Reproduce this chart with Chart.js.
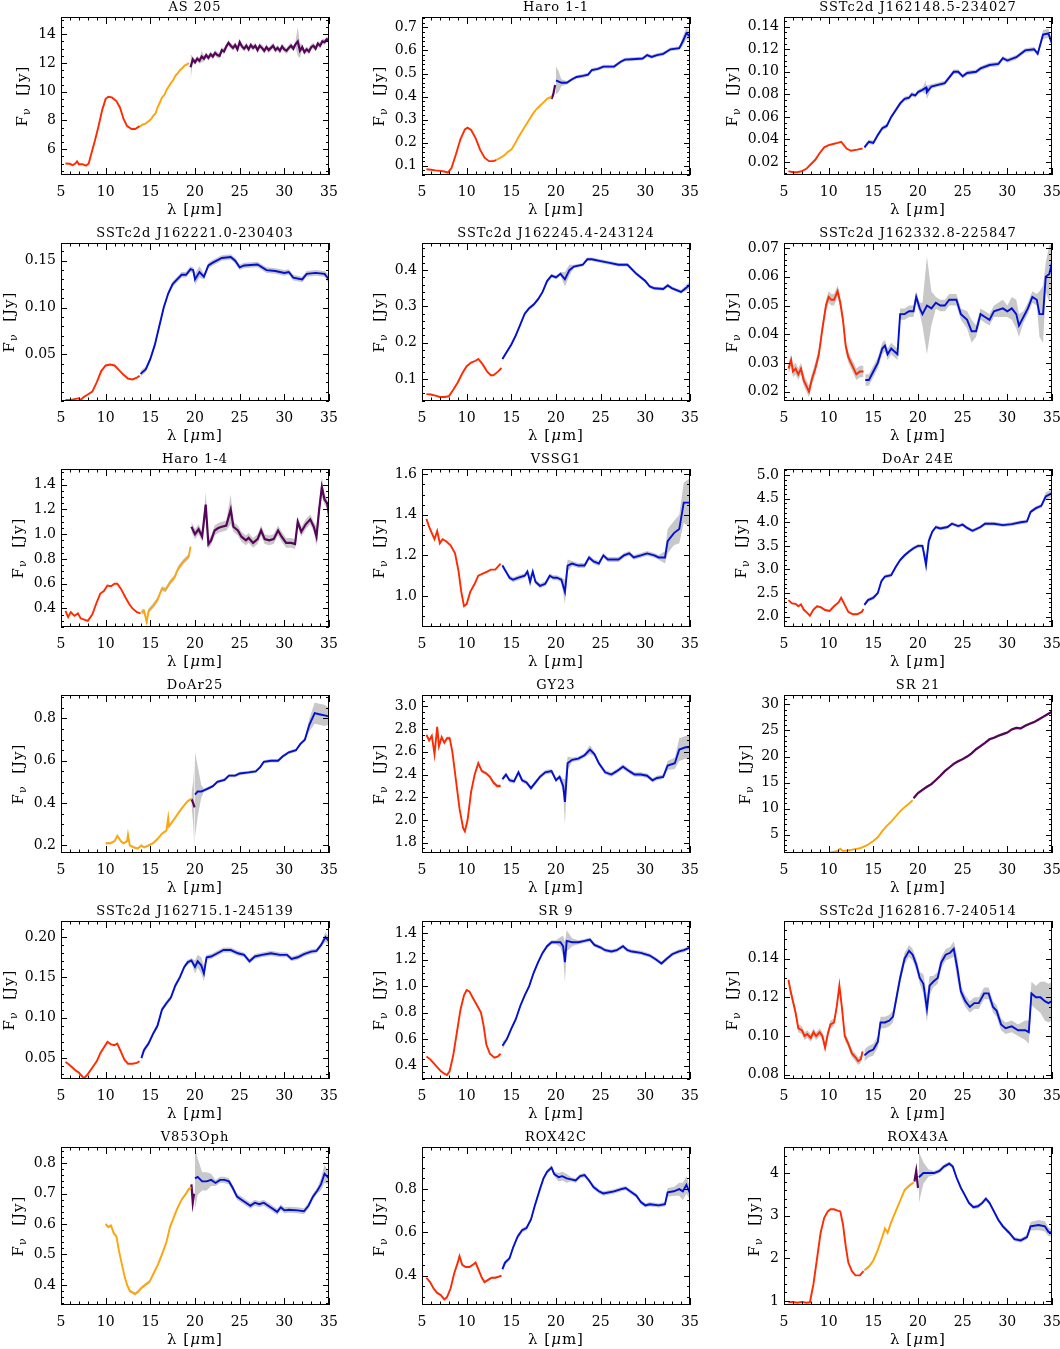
<!DOCTYPE html>
<html lang="en">
<head>
  <meta charset="UTF-8" />
  <title>IRS spectra</title>
  <script src="https://cdn.jsdelivr.net/npm/chart.js"></script>
  <style>
    html, body { margin: 0; padding: 0; background: #fff; overflow: hidden; }
    body { width: 1060px; height: 1349px; position: relative; }
    canvas { position: absolute; }
  </style>
</head>
<body>
<script>
// ---- shared axis data ----
const X_TICKS = [5, 10, 15, 20, 25, 30, 35];

const TITLES = [
  "AS 205", "Haro 1-1", "SSTc2d J162148.5-234027",
  "SSTc2d J162221.0-230403", "SSTc2d J162245.4-243124", "SSTc2d J162332.8-225847",
  "Haro 1-4", "VSSG1", "DoAr 24E",
  "DoAr25", "GY23", "SR 21",
  "SSTc2d J162715.1-245139", "SR 9", "SSTc2d J162816.7-240514",
  "V853Oph", "ROX42C", "ROX43A"
];

const Y_RANGES = [
  [4.2, 15.2], [0.06, 0.745], [0.0085, 0.1486],
  [0.0, 0.169], [0.039, 0.475], [0.0167, 0.0718],
  [0.25, 1.527], [0.847, 1.626], [1.78, 5.13],
  [0.164, 0.911], [1.71, 3.10], [1.5, 31.8],
  [0.024, 0.220], [0.30, 1.49], [0.0778, 0.1594],
  [0.334, 0.853], [0.264, 0.995], [0.906, 4.61]
];

const Y_TICKS = [
  [6, 8, 10, 12, 14], [0.1, 0.2, 0.3, 0.4, 0.5, 0.6, 0.7], [0.02, 0.04, 0.06, 0.08, 0.10, 0.12, 0.14],
  [0.05, 0.10, 0.15], [0.1, 0.2, 0.3, 0.4], [0.02, 0.03, 0.04, 0.05, 0.06, 0.07],
  [0.4, 0.6, 0.8, 1.0, 1.2, 1.4], [1.0, 1.2, 1.4, 1.6], [2.0, 2.5, 3.0, 3.5, 4.0, 4.5, 5.0],
  [0.2, 0.4, 0.6, 0.8], [1.8, 2.0, 2.2, 2.4, 2.6, 2.8, 3.0], [5, 10, 15, 20, 25, 30],
  [0.05, 0.10, 0.15, 0.20], [0.4, 0.6, 0.8, 1.0, 1.2, 1.4], [0.08, 0.10, 0.12, 0.14],
  [0.4, 0.5, 0.6, 0.7, 0.8], [0.4, 0.6, 0.8], [1, 2, 3, 4]
];

const Y_DECIMALS = [0, 1, 2, 2, 1, 2, 1, 1, 1, 1, 1, 0, 2, 1, 2, 1, 1, 0];

// ---- spectra: [lambda, flux, optional uncertainty] ----
// AS 205
const as205Red = [[5.5,5.0],[6.0,4.98],[6.3,4.88],[6.6,5.0],[6.8,5.15],[7.0,4.95],[7.4,4.95],[7.8,4.85],[8.1,5.0],[8.4,5.7],[8.8,6.6],[9.2,7.6],[9.6,8.7],[10.0,9.5],[10.3,9.65],[10.7,9.6],[11.2,9.35],[11.6,8.9],[12.0,8.1],[12.4,7.6],[12.9,7.4],[13.3,7.4],[13.8,7.6]];
const as205Orange = [[13.8,7.55],[14.1,7.7],[14.4,7.75],[14.8,7.95],[15.1,8.1],[15.3,8.3],[15.6,8.5],[15.8,8.9],[16.1,9.3],[16.3,9.6],[16.6,9.8],[16.8,10.1],[17.1,10.4],[17.3,10.6],[17.6,10.85],[17.8,11.1],[18.1,11.3],[18.3,11.5],[18.6,11.65],[18.8,11.8],[19.1,11.9],[19.3,12.0]];
const as205Purple = [[19.5,11.7,0.9],[19.75,12.25],[20.0,12.05],[20.25,12.3],[20.5,12.15],[20.75,12.45,0.4],[21.0,12.3],[21.25,12.55],[21.5,12.35],[21.75,12.6],[22.0,12.45],[22.25,12.7],[22.5,12.55],[22.75,12.5],[23.0,12.9],[23.25,12.8],[23.5,13.15],[23.75,13.4],[24.0,13.2],[24.25,13.05],[24.5,13.25],[24.75,12.95],[25.0,13.45],[25.25,13.15],[25.5,13.0],[25.75,13.2],[26.0,12.95],[26.25,13.25],[26.5,13.05],[26.75,13.2],[27.0,12.9],[27.25,13.2],[27.5,13.05],[27.75,12.85],[28.0,13.1],[28.25,12.9],[28.5,13.05],[28.75,13.2],[29.0,12.9],[29.25,13.05],[29.5,12.85],[29.75,13.15],[30.0,12.95],[30.25,12.85],[30.5,13.05],[30.75,13.2],[31.0,13.0],[31.25,13.3],[31.5,13.5,1.0],[31.75,12.85,0.5],[32.0,13.1],[32.25,12.75],[32.5,12.95],[32.75,12.8],[33.0,13.1],[33.25,13.2],[33.5,13.0],[33.75,13.35],[34.0,13.2],[34.25,13.5],[34.5,13.45],[34.75,13.65],[35.0,13.6]];

// Haro 1-1
const haro11Red = [[5.5,0.085],[6.0,0.083],[6.5,0.08],[7.0,0.078],[7.5,0.075],[7.9,0.07],[8.3,0.09],[8.8,0.15],[9.3,0.215],[9.8,0.258],[10.1,0.265],[10.5,0.255],[11.0,0.22],[11.5,0.17],[12.0,0.135],[12.5,0.12],[13.0,0.12],[13.3,0.125]];
const haro11Orange = [[13.3,0.125],[13.8,0.135],[14.2,0.145],[14.6,0.16],[15.0,0.17],[15.4,0.195],[15.8,0.225],[16.2,0.25],[16.6,0.275],[17.0,0.3],[17.4,0.325],[17.8,0.345],[18.2,0.36],[18.6,0.375],[19.0,0.39],[19.5,0.4]];
const haro11Purple = [[19.5,0.39],[19.7,0.41],[19.9,0.45]];
const haro11Blue = [[20.0,0.47,0.06],[20.3,0.465,0.045],[20.6,0.46,0.015],[21.2,0.46],[21.8,0.475],[22.3,0.485],[23.0,0.49],[23.6,0.495],[24.0,0.515],[24.7,0.52],[25.3,0.53],[26.5,0.53],[27.2,0.55],[27.7,0.56],[28.5,0.562],[29.7,0.565],[30.2,0.58],[30.7,0.572],[31.3,0.58],[32.0,0.585],[32.8,0.605],[33.8,0.61],[34.2,0.64,0.02],[34.6,0.675,0.025],[35.0,0.66,0.02]];

// SSTc2d J162148.5-234027
const j1621Red = [[5.5,0.012],[6.0,0.011],[6.5,0.011],[7.0,0.012],[7.5,0.014],[8.0,0.018],[8.5,0.022],[9.0,0.028],[9.5,0.033],[10.0,0.035],[10.5,0.036],[11.0,0.037],[11.4,0.038],[11.7,0.035],[12.0,0.032],[12.5,0.03],[13.2,0.031],[13.8,0.032]];
const j1621Blue = [[14.0,0.033],[14.5,0.038],[15.0,0.037],[15.5,0.044],[16.0,0.05],[16.5,0.052],[17.0,0.06],[17.5,0.066],[18.0,0.072],[18.5,0.076],[19.0,0.077],[19.3,0.08],[19.7,0.079],[20.0,0.082],[20.5,0.084],[20.9,0.086,0.006],[21.0,0.082,0.006],[21.5,0.087],[22.0,0.088],[23.0,0.09],[23.5,0.095],[24.0,0.1],[24.5,0.1],[25.0,0.096],[25.5,0.099],[26.5,0.1],[27.0,0.103],[28.0,0.106],[29.0,0.107],[29.5,0.112],[30.0,0.11],[31.0,0.113],[32.0,0.119],[33.0,0.12],[33.4,0.116],[34.0,0.133,0.004],[34.6,0.134,0.004],[35.0,0.125]];

// SSTc2d J162221.0-230403
const j1622aRed = [[5.5,0.001],[6.0,0.001],[6.5,0.002],[7.0,0.003],[7.2,0.001],[7.5,0.004],[8.0,0.007],[8.5,0.01],[9.0,0.02],[9.5,0.032],[10.0,0.038],[10.5,0.039],[11.0,0.038],[11.5,0.033],[12.0,0.028],[12.5,0.024],[13.0,0.023],[13.5,0.025],[13.8,0.027]];
const j1622aBlue = [[13.9,0.029],[14.5,0.034],[15.0,0.045],[15.5,0.06],[16.0,0.08],[16.5,0.1],[17.0,0.115],[17.5,0.125],[18.0,0.13],[18.5,0.135],[19.0,0.135],[19.5,0.141],[19.8,0.14],[20.0,0.13,0.006],[20.5,0.138,0.006],[21.0,0.133],[21.5,0.145],[22.0,0.148],[23.0,0.153],[24.0,0.154],[24.5,0.15],[25.0,0.143],[25.5,0.145],[27.0,0.146],[28.0,0.14],[29.0,0.139],[30.0,0.137],[30.5,0.138],[31.0,0.132],[32.0,0.13],[32.5,0.136],[33.5,0.137],[34.5,0.136],[35.0,0.13,0.005]];

// SSTc2d J162245.4-243124
const j1622bRed = [[5.5,0.058],[6.0,0.057],[6.5,0.054],[7.0,0.05],[7.5,0.05],[8.0,0.052],[8.5,0.07],[9.0,0.09],[9.5,0.115],[10.0,0.135],[10.5,0.145],[11.0,0.15],[11.3,0.155],[11.8,0.14],[12.3,0.12],[12.7,0.11],[13.0,0.11],[13.5,0.12],[13.9,0.13]];
const j1622bBlue = [[14.0,0.155],[14.5,0.175],[15.0,0.195],[15.5,0.22],[16.0,0.25],[16.5,0.28],[17.0,0.295],[17.5,0.305],[18.0,0.32],[18.5,0.34],[19.0,0.37],[19.5,0.385],[20.0,0.38],[20.5,0.39],[21.0,0.375,0.02],[21.5,0.4,0.015],[22.0,0.41],[23.0,0.415],[23.5,0.43],[24.0,0.43],[25.0,0.425],[26.0,0.42],[27.0,0.415],[28.0,0.415],[29.0,0.39],[30.0,0.37],[30.5,0.355],[31.0,0.35],[32.0,0.348],[32.5,0.358],[33.0,0.35],[34.0,0.34],[35.0,0.36,0.01]];

// SSTc2d J162332.8-225847
const j1623Red = [[5.5,0.028],[5.8,0.031],[6.0,0.027],[6.3,0.028],[6.6,0.026],[6.9,0.028],[7.2,0.024],[7.5,0.022],[7.8,0.02],[8.1,0.024],[8.5,0.028],[8.9,0.033],[9.3,0.042],[9.7,0.05],[10.0,0.053],[10.3,0.052],[10.6,0.052],[11.0,0.055],[11.3,0.051],[11.6,0.045],[11.9,0.036],[12.2,0.032],[12.5,0.03],[12.8,0.028],[13.1,0.026],[13.5,0.027],[13.9,0.027]];
const j1623Blue = [[14.1,0.024],[14.5,0.024],[15.0,0.027],[15.5,0.03],[16.0,0.035],[16.3,0.036],[16.6,0.033],[17.0,0.035],[17.7,0.033],[18.0,0.047],[18.5,0.047],[19.0,0.048],[19.5,0.048],[19.8,0.053],[20.2,0.049],[20.5,0.047,0.004],[21.0,0.05,0.017],[21.5,0.049,0.006],[22.0,0.051],[22.5,0.05],[23.0,0.05],[23.5,0.052],[24.3,0.052],[24.8,0.047],[25.5,0.045,0.003],[26.0,0.041,0.004],[26.5,0.041],[27.0,0.047],[27.5,0.046],[28.0,0.045],[28.5,0.048],[29.5,0.049,0.003],[30.0,0.048],[30.5,0.049,0.004],[31.0,0.047,0.005],[31.3,0.043,0.004],[31.8,0.046],[32.3,0.049],[32.8,0.053],[33.3,0.052],[33.6,0.047,0.008],[34.0,0.047,0.01],[34.3,0.06,0.005],[34.7,0.061,0.01],[35.0,0.065,0.006]];

// Haro 1-4
const haro14Red = [[5.5,0.38],[5.8,0.33],[6.1,0.37],[6.5,0.34],[6.9,0.36],[7.2,0.32],[7.6,0.31],[8.0,0.30],[8.5,0.35],[9.0,0.45],[9.4,0.52],[9.8,0.54],[10.2,0.585],[10.6,0.58],[11.0,0.6],[11.3,0.6],[11.7,0.56],[12.2,0.49],[12.6,0.44],[13.0,0.4],[13.5,0.37],[13.9,0.36]];
const haro14Orange = [[14.0,0.37],[14.3,0.38],[14.6,0.29],[14.8,0.38],[15.3,0.42],[15.8,0.47],[16.3,0.56],[16.7,0.55],[17.2,0.61],[17.7,0.65],[18.1,0.72],[18.6,0.77],[19.0,0.8],[19.3,0.82],[19.5,0.9]];
const haro14Purple = [[19.6,1.06],[20.0,1.0],[20.4,1.04],[20.8,0.98],[21.2,1.24,0.1],[21.5,0.92],[21.8,0.95],[22.2,1.03],[22.6,1.05],[23.0,1.06],[23.5,1.07],[24.0,1.2,0.12],[24.3,1.06],[24.8,1.03],[25.2,0.98],[25.7,0.95],[26.0,0.97],[26.5,0.93],[27.0,0.96],[27.4,1.03],[27.8,0.96],[28.3,0.95],[28.8,0.96],[29.3,1.03],[29.7,0.98],[30.2,0.93],[30.8,0.93],[31.2,0.92],[31.5,1.1],[31.9,1.02],[32.4,1.08],[32.9,1.12],[33.3,1.06],[33.6,0.98,0.08],[33.9,1.2],[34.2,1.38,0.08],[34.5,1.28],[34.8,1.25],[35.0,1.15]];

// VSSG1
const vssg1Red = [[5.5,1.38],[5.8,1.34],[6.1,1.31],[6.4,1.28],[6.7,1.32],[7.0,1.26],[7.3,1.28],[7.7,1.27],[8.2,1.25],[8.7,1.21],[9.1,1.12],[9.4,1.02],[9.7,0.95],[10.0,0.96],[10.4,1.02],[10.9,1.06],[11.3,1.1],[11.8,1.11],[12.3,1.12],[12.7,1.13],[13.2,1.13],[13.8,1.16]];
const vssg1Blue = [[14.0,1.15],[14.4,1.12],[14.8,1.09],[15.2,1.08],[15.8,1.09],[16.5,1.1],[16.8,1.12],[17.1,1.07,0.03],[17.4,1.12],[17.7,1.07],[18.2,1.05],[18.8,1.06],[19.3,1.1],[19.7,1.09],[20.1,1.09],[20.6,1.08],[21.0,1.02,0.06],[21.3,1.15,0.03],[21.8,1.16],[22.5,1.15],[23.2,1.15],[23.7,1.19],[24.2,1.17],[24.8,1.16],[25.3,1.2],[25.8,1.18],[27.0,1.18],[27.6,1.2],[28.2,1.21],[28.7,1.19],[29.5,1.2],[30.2,1.21],[31.0,1.2],[31.5,1.19],[32.2,1.19,0.03],[32.5,1.27,0.06],[33.2,1.31,0.06],[33.8,1.33,0.07],[34.3,1.46,0.1],[35.0,1.46,0.12]];

// DoAr 24E
const doar24Red = [[5.5,2.35],[5.9,2.28],[6.3,2.27],[6.6,2.22],[6.9,2.26],[7.2,2.15],[7.6,2.08],[7.9,2.02],[8.3,2.15],[8.7,2.22],[9.1,2.2],[9.6,2.14],[10.1,2.12],[10.6,2.22],[11.1,2.3],[11.4,2.4],[11.8,2.25],[12.2,2.1],[12.7,2.05],[13.2,2.05],[13.7,2.1],[13.9,2.16]];
const doar24Blue = [[14.0,2.25],[14.4,2.35],[15.0,2.4],[15.5,2.5],[15.9,2.75],[16.3,2.85],[17.0,2.88],[17.5,3.05],[18.0,3.2],[18.5,3.3],[19.0,3.38],[19.5,3.45],[20.0,3.5],[20.5,3.5],[20.9,3.1,0.2],[21.2,3.6,0.1],[21.6,3.8],[22.0,3.9],[22.5,3.87],[23.3,3.9],[23.8,3.97],[24.5,3.92],[25.0,3.95],[25.5,3.88],[26.1,3.82],[27.0,3.9],[27.5,3.97],[28.5,3.97],[29.5,3.94],[30.5,3.96],[31.5,4.0],[32.2,4.02],[32.6,4.22],[33.2,4.3],[33.8,4.35],[34.3,4.55,0.08],[35.0,4.62,0.08]];

// DoAr25
const doar25Orange = [[10.0,0.21],[10.5,0.21],[11.0,0.22],[11.3,0.245],[11.7,0.22],[12.0,0.21],[12.4,0.22],[12.5,0.25],[12.7,0.2],[13.2,0.19],[13.6,0.185],[14.0,0.2],[14.3,0.19],[14.8,0.2],[15.3,0.21],[15.8,0.23],[16.3,0.255],[16.8,0.27],[17.0,0.33],[17.1,0.29],[17.6,0.32],[18.1,0.35],[18.6,0.38],[19.2,0.41],[19.6,0.42]];
const doar25Purple = [[19.6,0.42,0.03],[19.8,0.4,0.1],[19.95,0.38,0.22]];
const doar25Blue = [[20.0,0.44,0.2],[20.3,0.455,0.12],[20.7,0.455,0.03],[21.0,0.46],[21.5,0.47],[22.0,0.48],[22.5,0.5],[23.3,0.51],[23.8,0.53],[24.5,0.53],[25.0,0.54],[26.0,0.545],[26.8,0.55],[27.3,0.57],[27.7,0.595],[28.5,0.6],[29.3,0.6],[29.8,0.62],[30.5,0.64],[31.3,0.65],[31.8,0.68],[32.3,0.7],[32.8,0.77,0.03],[33.4,0.825,0.05],[33.9,0.82,0.05],[34.5,0.815,0.05],[35.0,0.81,0.04]];

// GY23
const gy23Red = [[5.5,2.75],[5.8,2.7],[6.1,2.74],[6.4,2.58],[6.7,2.82],[6.9,2.65],[7.2,2.73],[7.5,2.68],[7.8,2.72],[8.1,2.72],[8.4,2.6],[8.8,2.35],[9.2,2.1],[9.6,1.93],[9.8,1.9],[10.1,2.0],[10.5,2.25],[10.9,2.4],[11.3,2.5],[11.7,2.43],[12.2,2.41],[12.6,2.38],[13.0,2.33],[13.4,2.3],[13.8,2.3]];
const gy23Blue = [[14.0,2.36],[14.4,2.4],[14.8,2.35],[15.3,2.34],[15.8,2.42],[16.2,2.35],[16.7,2.33],[17.2,2.28],[17.6,2.32],[18.2,2.38],[18.8,2.42],[19.5,2.43],[20.0,2.35],[20.4,2.38],[20.8,2.3,0.06],[21.0,2.16,0.2],[21.3,2.5,0.06],[21.8,2.53],[22.5,2.54],[23.2,2.57],[23.8,2.62,0.04],[24.3,2.58],[24.8,2.5],[25.5,2.42],[26.2,2.4],[26.8,2.43],[27.5,2.47],[28.2,2.43],[28.8,2.4],[29.5,2.4],[30.2,2.39],[30.8,2.35],[31.3,2.37],[32.0,2.38],[32.5,2.48,0.04],[33.3,2.5,0.05],[33.8,2.62,0.1],[34.5,2.64,0.1],[35.0,2.64,0.1]];

// SR 21
const sr21Orange = [[10.0,1.5],[10.5,1.7],[11.0,1.9],[11.3,2.3],[11.6,1.9],[12.5,2.1],[13.5,2.4],[14.3,3.0],[15.0,3.8],[15.5,4.5],[16.0,5.7],[16.5,6.7],[17.0,7.5],[17.5,8.5],[18.0,9.5],[18.5,10.3],[19.0,11.0],[19.4,11.6]];
const sr21Purple = [[19.5,12.0],[20.0,13.0],[20.5,13.6],[21.0,14.2],[21.5,14.7],[22.0,15.5],[22.5,16.3],[23.0,17.2],[23.5,17.9],[24.0,18.6],[24.5,19.1],[25.0,19.5],[25.5,20.0],[26.0,20.6],[26.5,21.4],[27.0,22.0],[27.5,22.6],[28.0,23.3],[28.5,23.6],[29.0,24.0],[29.5,24.3],[30.0,24.6],[30.5,25.2],[31.0,25.5],[31.5,25.4],[32.0,25.9],[32.5,26.3],[33.0,26.6],[33.5,27.1],[34.0,27.6],[34.5,28.1],[35.0,28.6]];

// SSTc2d J162715.1-245139
const j1627Red = [[5.5,0.045],[5.9,0.042],[6.3,0.038],[6.7,0.034],[7.0,0.032],[7.3,0.028],[7.6,0.025],[8.0,0.03],[8.5,0.038],[9.0,0.046],[9.4,0.056],[9.8,0.063],[10.2,0.07],[10.6,0.067],[11.0,0.066],[11.3,0.068],[11.7,0.058],[12.1,0.048],[12.5,0.043],[13.0,0.043],[13.5,0.044],[13.8,0.046]];
const j1627Blue = [[14.0,0.05,0.006],[14.3,0.06],[14.8,0.068],[15.3,0.08],[15.8,0.09],[16.3,0.11],[16.8,0.118],[17.3,0.125],[17.8,0.14],[18.3,0.15],[18.8,0.163],[19.2,0.169],[19.6,0.171],[20.0,0.163,0.008],[20.3,0.17,0.008],[20.7,0.165,0.01],[21.0,0.155,0.01],[21.3,0.175],[21.8,0.176],[22.5,0.18],[23.2,0.184],[24.0,0.184],[24.8,0.18],[25.5,0.178],[26.1,0.17],[26.7,0.176],[27.5,0.178],[28.5,0.18],[29.5,0.178],[30.3,0.178],[30.8,0.173],[31.5,0.175],[32.2,0.179],[33.0,0.182],[33.6,0.183],[34.1,0.19],[34.6,0.2,0.006],[35.0,0.195,0.005]];

// SR 9
const sr9Red = [[5.5,0.47],[5.9,0.45],[6.3,0.42],[6.7,0.39],[7.1,0.36],[7.5,0.34],[7.8,0.33],[8.1,0.36],[8.5,0.48],[8.9,0.65],[9.3,0.82],[9.7,0.93],[10.0,0.97],[10.3,0.96],[10.7,0.91],[11.2,0.85],[11.6,0.8],[11.9,0.7],[12.2,0.56],[12.6,0.49],[13.1,0.46],[13.5,0.47],[13.8,0.49]];
const sr9Blue = [[14.0,0.55,0.03],[14.5,0.6],[15.0,0.68],[15.5,0.75],[16.0,0.85],[16.5,0.93],[17.0,1.0],[17.5,1.1],[18.0,1.18],[18.5,1.25],[19.0,1.3],[19.5,1.33],[20.0,1.33],[20.5,1.33,0.04],[20.8,1.3,0.08],[21.0,1.18,0.15],[21.2,1.34,0.08],[21.8,1.33,0.03],[22.5,1.33],[23.2,1.34],[23.8,1.35],[24.3,1.31],[25.0,1.29],[25.5,1.27],[26.2,1.26],[26.8,1.27],[27.5,1.3],[28.0,1.27],[28.5,1.26],[29.5,1.25],[30.5,1.23],[31.2,1.2],[31.8,1.17],[32.3,1.2],[33.0,1.24],[33.7,1.26],[34.3,1.27],[35.0,1.29]];

// SSTc2d J162816.7-240514
const j1628Red = [[5.5,0.129],[5.7,0.124],[6.0,0.118],[6.3,0.112],[6.6,0.104],[7.0,0.103],[7.3,0.1],[7.6,0.101],[8.0,0.099],[8.3,0.102],[8.6,0.1],[9.0,0.102],[9.3,0.1],[9.6,0.094],[9.9,0.101],[10.2,0.106],[10.6,0.107],[10.9,0.115],[11.2,0.126],[11.5,0.114],[11.8,0.1],[12.2,0.096],[12.6,0.091],[13.0,0.089],[13.3,0.087],[13.6,0.088],[13.8,0.092]];
const j1628Blue = [[14.0,0.09],[14.5,0.092],[15.0,0.093],[15.5,0.097],[15.8,0.107],[16.3,0.107],[16.8,0.108],[17.2,0.11],[17.6,0.12],[18.0,0.13],[18.5,0.14],[19.0,0.144],[19.4,0.142],[19.8,0.137],[20.2,0.13],[20.6,0.127,0.005],[21.0,0.114,0.007],[21.3,0.126,0.005],[21.7,0.128],[22.2,0.13],[22.6,0.138],[23.1,0.142],[23.6,0.143],[24.0,0.145,0.004],[24.4,0.135,0.006],[24.8,0.123],[25.3,0.118],[25.8,0.115],[26.3,0.117],[26.8,0.117],[27.4,0.122],[27.9,0.122],[28.4,0.115],[28.8,0.113],[29.3,0.106],[29.8,0.104],[30.5,0.105],[31.2,0.103],[32.0,0.103,0.005],[32.4,0.102,0.006],[32.7,0.122,0.006],[33.2,0.12,0.006],[33.7,0.12,0.008],[34.2,0.118,0.01],[34.6,0.117,0.01],[35.0,0.118,0.01]];

// V853Oph
const v853Orange = [[10.0,0.6],[10.3,0.59],[10.6,0.595],[10.9,0.57],[11.2,0.56],[11.5,0.51],[11.8,0.47],[12.1,0.43],[12.4,0.4],[12.7,0.38],[13.0,0.375],[13.3,0.37],[13.7,0.38],[14.0,0.39],[14.4,0.4],[14.9,0.41],[15.4,0.44],[15.9,0.47],[16.3,0.5],[16.8,0.54],[17.2,0.59],[17.6,0.62],[18.0,0.65],[18.5,0.68],[19.0,0.7],[19.3,0.715],[19.6,0.72]];
const v853Purple = [[19.6,0.73],[19.75,0.67],[19.9,0.7]];
const v853Blue = [[20.0,0.75,0.1],[20.3,0.755,0.06],[20.8,0.74,0.03],[21.3,0.74,0.03],[21.8,0.745,0.02],[22.3,0.735],[22.8,0.745],[23.3,0.745],[23.8,0.74],[24.2,0.72],[24.7,0.69],[25.2,0.68],[25.7,0.67],[26.2,0.66],[26.7,0.67],[27.2,0.665],[27.7,0.67],[28.2,0.66],[28.7,0.65],[29.2,0.64],[29.6,0.655],[30.0,0.645],[30.5,0.647],[31.5,0.645],[32.2,0.642],[32.7,0.66],[33.2,0.69],[33.7,0.71],[34.1,0.73,0.02],[34.5,0.765,0.03],[35.0,0.75,0.02]];

// ROX42C
const rox42Red = [[5.5,0.39],[5.9,0.37],[6.3,0.34],[6.7,0.32],[7.1,0.31],[7.5,0.29],[7.8,0.3],[8.2,0.34],[8.6,0.41],[9.0,0.46],[9.2,0.49],[9.5,0.45],[9.9,0.44],[10.3,0.44],[10.7,0.45],[11.0,0.46],[11.3,0.43],[11.7,0.39],[12.0,0.37],[12.4,0.38],[12.8,0.39],[13.2,0.39],[13.6,0.395],[13.9,0.4]];
const rox42Blue = [[14.0,0.43,0.02],[14.3,0.46],[14.8,0.48],[15.2,0.53],[15.7,0.58],[16.2,0.61],[16.7,0.62],[17.2,0.66],[17.6,0.72],[18.2,0.8],[18.6,0.85],[19.0,0.88],[19.5,0.9],[19.8,0.87],[20.3,0.855,0.02],[20.7,0.86,0.02],[21.2,0.85,0.02],[21.7,0.845],[22.2,0.84],[22.7,0.86],[23.2,0.865],[23.7,0.84],[24.2,0.81],[24.8,0.79],[25.3,0.78],[26.5,0.79],[27.3,0.8],[27.8,0.805],[28.3,0.79],[29.0,0.77],[29.5,0.74],[30.0,0.725],[30.5,0.73],[31.5,0.725],[32.2,0.73],[32.5,0.785,0.02],[33.2,0.79,0.02],[33.8,0.8,0.03],[34.2,0.79,0.04],[34.6,0.82,0.04],[35.0,0.78,0.03]];

// ROX43A
const rox43Red = [[5.5,0.97],[6.0,0.98],[6.5,0.96],[7.0,0.98],[7.5,0.96],[7.9,0.97],[8.3,1.4],[8.7,2.0],[9.1,2.6],[9.5,2.95],[9.9,3.1],[10.2,3.15],[10.6,3.15],[11.0,3.12],[11.3,3.1],[11.6,2.8],[11.9,2.3],[12.2,1.9],[12.6,1.7],[13.0,1.6],[13.5,1.6],[13.9,1.7]];
const rox43Orange = [[14.0,1.72],[14.5,1.8],[15.0,1.95],[15.5,2.2],[16.0,2.5],[16.3,2.7],[16.6,2.6],[17.0,2.85],[17.5,3.1],[18.0,3.35],[18.5,3.6],[19.0,3.7],[19.5,3.78]];
const rox43Purple = [[19.6,3.8],[19.8,4.05],[20.0,3.65]];
const rox43Blue = [[20.1,3.9,0.6],[20.6,4.0,0.25],[21.2,4.0,0.08],[21.8,4.0],[22.4,4.05],[22.9,4.15],[23.5,4.22],[23.9,4.15],[24.3,3.9],[24.8,3.65],[25.2,3.5],[25.7,3.3],[26.2,3.2],[26.7,3.22],[27.2,3.3],[27.6,3.4],[28.0,3.3],[28.5,3.1],[29.0,2.9],[29.5,2.75],[30.2,2.6],[30.8,2.45],[31.5,2.42],[32.2,2.5],[32.6,2.75,0.1],[33.5,2.78,0.12],[34.2,2.75,0.12],[34.6,2.62,0.1],[35.0,2.6,0.08]];

// segments per panel: [colour key, points, default uncertainty]
const PANELS = [
  [["red", as205Red, 0], ["orange", as205Orange, 0.05], ["purple", as205Purple, 0.2]],
  [["red", haro11Red, 0], ["orange", haro11Orange, 0.003], ["purple", haro11Purple, 0.01], ["blue", haro11Blue, 0.008]],
  [["red", j1621Red, 0], ["blue", j1621Blue, 0.002]],
  [["red", j1622aRed, 0], ["blue", j1622aBlue, 0.003]],
  [["red", j1622bRed, 0], ["blue", j1622bBlue, 0.005]],
  [["red", j1623Red, 0.002], ["blue", j1623Blue, 0.002]],
  [["red", haro14Red, 0], ["orange", haro14Orange, 0.02], ["purple", haro14Purple, 0.04]],
  [["red", vssg1Red, 0], ["blue", vssg1Blue, 0.012]],
  [["red", doar24Red, 0.02], ["blue", doar24Blue, 0.04]],
  [["orange", doar25Orange, 0.005], ["purple", doar25Purple, 0.02], ["blue", doar25Blue, 0.008]],
  [["red", gy23Red, 0.015], ["blue", gy23Blue, 0.02]],
  [["orange", sr21Orange, 0.1], ["purple", sr21Purple, 0.25]],
  [["red", j1627Red, 0], ["blue", j1627Blue, 0.003]],
  [["red", sr9Red, 0], ["blue", sr9Blue, 0.015]],
  [["red", j1628Red, 0.002], ["blue", j1628Blue, 0.003]],
  [["orange", v853Orange, 0.005], ["purple", v853Purple, 0.02], ["blue", v853Blue, 0.01]],
  [["red", rox42Red, 0.005], ["blue", rox42Blue, 0.01]],
  [["red", rox43Red, 0], ["orange", rox43Orange, 0.03], ["purple", rox43Purple, 0.1], ["blue", rox43Blue, 0.05]]
];

const COLORS = { red: "#ff2a00", orange: "#ffa50a", blue: "#0010d4", purple: "#56055a" };
const BAND = "#c8c8c8";
const FONT = "'DejaVu Serif', serif";

Chart.defaults.font.family = FONT;
Chart.defaults.font.size = 14;
Chart.defaults.color = "#000";

const PLOT_LEFT = [61, 422, 784];
const PLOT_W = 268, PLOT_H = 158, ROW_STEP = 226, TOP0 = 17;
const CANVAS_W = 338, CANVAS_H = 226;

function minorStep(step) {
  const p = Math.pow(10, Math.floor(Math.log10(step) + 1e-9));
  const m = Math.round(step / p);
  return step / (m === 2 ? 4 : 5);
}

// IDL-like frame: box, inward major/minor ticks on all sides, titles
const idlFrame = {
  id: "idlFrame",
  afterDraw(chart, args, opts) {
    const { ctx, chartArea: a } = chart;
    const xs = chart.scales.x, ys = chart.scales.y;
    ctx.save();
    ctx.strokeStyle = "#000";
    ctx.lineWidth = 1;
    ctx.strokeRect(a.left + 0.5, a.top + 0.5, a.right - a.left - 1, a.bottom - a.top - 1);
    ctx.beginPath();
    const tick = (vals, len, horiz) => {
      vals.forEach(v => {
        if (horiz) {
          const px = Math.round(xs.getPixelForValue(v)) + 0.5;
          ctx.moveTo(px, a.bottom); ctx.lineTo(px, a.bottom - len);
          ctx.moveTo(px, a.top); ctx.lineTo(px, a.top + len);
        } else {
          const py = Math.round(ys.getPixelForValue(v)) + 0.5;
          ctx.moveTo(a.left, py); ctx.lineTo(a.left + len, py);
          ctx.moveTo(a.right, py); ctx.lineTo(a.right - len, py);
        }
      });
    };
    const minors = (ticks, min, max) => {
      const st = minorStep(ticks[1] - ticks[0]);
      const out = [];
      for (let v = ticks[0]; v >= min - 1e-9; v -= st) out.push(v);
      for (let v = ticks[0] + st; v <= max + 1e-9; v += st) out.push(v);
      return out;
    };
    tick(X_TICKS, 7, true);
    tick(minors(X_TICKS, xs.min, xs.max), 3.5, true);
    tick(opts.yTicks, 6, false);
    tick(minors(opts.yTicks, ys.min, ys.max), 3, false);
    ctx.stroke();

    ctx.fillStyle = "#000";
    ctx.font = "13px " + FONT;
    ctx.letterSpacing = "1px";
    ctx.textAlign = "center";
    ctx.textBaseline = "alphabetic";
    const cx = (a.left + a.right) / 2;
    ctx.fillText(opts.title, cx, a.top - 6);

    // x title: λ [μm]
    ctx.letterSpacing = "1px";
    const parts = [["λ [", "15px " + FONT], ["μ", "italic 15px " + FONT], ["m]", "15px " + FONT]];
    let tw = 0;
    parts.forEach(p => { ctx.font = p[1]; tw += ctx.measureText(p[0]).width; });
    let x0 = cx - tw / 2;
    ctx.textAlign = "left";
    parts.forEach(p => { ctx.font = p[1]; ctx.fillText(p[0], x0, a.bottom + 39); x0 += ctx.measureText(p[0]).width; });

    // y title: F_nu [Jy], rotated
    ctx.letterSpacing = "0px";
    ctx.font = "14px " + FONT;
    let maxW = 0;
    ys.ticks.forEach(t => { maxW = Math.max(maxW, ctx.measureText(t.label).width); });
    const yx = a.left - 4 - maxW - 12;
    const cy = (a.top + a.bottom) / 2;
    ctx.translate(yx, cy);
    ctx.rotate(-Math.PI / 2);
    ctx.letterSpacing = "1px";
    ctx.font = "15px " + FONT; const wF = ctx.measureText("F").width;
    ctx.font = "11px " + FONT; const wN = ctx.measureText("ν").width;
    ctx.font = "15px " + FONT; const wJ = ctx.measureText("  [Jy]").width;
    let s = -(wF + wN + wJ) / 2;
    ctx.font = "15px " + FONT; ctx.fillText("F", s, 0); s += wF;
    ctx.font = "11px " + FONT; ctx.fillText("ν", s, 3); s += wN;
    ctx.font = "15px " + FONT; ctx.fillText("  [Jy]", s, 0);
    ctx.restore();
  }
};

PANELS.forEach((segs, i) => {
  const col = i % 3, row = Math.floor(i / 3);
  const cv = document.createElement("canvas");
  cv.width = CANVAS_W; cv.height = CANVAS_H;
  cv.style.left = (PLOT_LEFT[col] - 61) + "px";
  cv.style.top = (TOP0 + ROW_STEP * row - 17) + "px";
  cv.style.width = CANVAS_W + "px"; cv.style.height = CANVAS_H + "px";
  document.body.appendChild(cv);

  const lines = [], bands = [];
  segs.forEach(([key, pts, err]) => {
    lines.push({
      data: pts.map(p => ({ x: p[0], y: p[1] })),
      borderColor: COLORS[key], borderWidth: key === "purple" ? 2.2 : 1.9,
      pointRadius: 0, tension: 0, fill: false
    });
    const e = p => (p.length > 2 ? p[2] : err);
    if (pts.some(p => e(p) > 0)) {
      bands.push({
        data: pts.map(p => ({ x: p[0], y: p[1] + e(p) })),
        borderWidth: 0, borderColor: "rgba(0,0,0,0)", pointRadius: 0, tension: 0, fill: false
      });
      bands.push({
        data: pts.map(p => ({ x: p[0], y: p[1] - e(p) })),
        borderWidth: 0, borderColor: "rgba(0,0,0,0)", pointRadius: 0, tension: 0,
        fill: "-1", backgroundColor: BAND
      });
    }
  });

  const yT = Y_TICKS[i], dec = Y_DECIMALS[i];
  new Chart(cv.getContext("2d"), {
    type: "line",
    data: { datasets: lines.concat(bands) },
    options: {
      responsive: false,
      animation: false,
      events: [],
      layout: { padding: { top: 17, right: CANVAS_W - 61 - PLOT_W, left: 0, bottom: 0 } },
      scales: {
        x: {
          type: "linear", min: 5, max: 35,
          afterBuildTicks: s => { s.ticks = X_TICKS.map(v => ({ value: v })); },
          afterFit: s => { s.height = CANVAS_H - 17 - PLOT_H; s.paddingLeft = 0; s.paddingRight = 0; },
          grid: { display: false, drawTicks: false },
          border: { display: false },
          ticks: { padding: 9, maxRotation: 0, autoSkip: false, callback: v => String(v) }
        },
        y: {
          type: "linear", min: Y_RANGES[i][0], max: Y_RANGES[i][1],
          afterBuildTicks: s => { s.ticks = yT.map(v => ({ value: v })); },
          afterFit: s => { s.width = 61; s.paddingTop = 0; s.paddingBottom = 0; },
          grid: { display: false, drawTicks: false },
          border: { display: false },
          ticks: { padding: 5, autoSkip: false, callback: v => Number(v).toFixed(dec) }
        }
      },
      plugins: {
        legend: { display: false },
        tooltip: { enabled: false },
        idlFrame: { title: TITLES[i], yTicks: yT }
      }
    },
    plugins: [idlFrame]
  });
});
</script>
</body>
</html>
